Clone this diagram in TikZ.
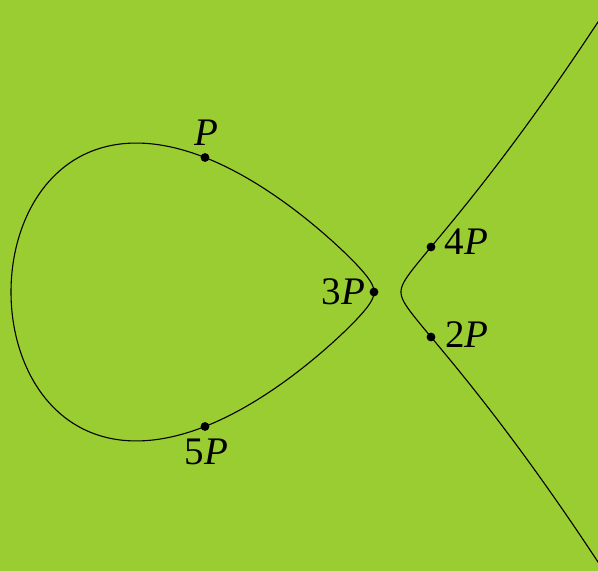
\documentclass[tikz,border=0pt]{standalone}
\usepackage{fontspec}
\setmainfont{Liberation Serif}
\definecolor{bg}{RGB}{154,205,50}
\begin{document}
\begin{tikzpicture}[x=50pt,y=-50pt,
  curve/.style={black,line width=0.55pt},
  pt/.style={circle,fill=black,inner sep=0pt,minimum size=4.4pt},
  lab/.style={inner sep=0pt,font=\fontsize{19.5}{23}\selectfont}]
\fill[bg] (0,0) rectangle (5.98,5.71);
\useasboundingbox (0,0) rectangle (5.98,5.71);
\begin{scope}
\clip (0,0) rectangle (5.98,5.71);
\draw[curve] plot[domain=0:360,samples=240,smooth,variable=\t]
  ({0.11+1.815*(1-cos(\t))},{2.92-1.815*sin(\t)*sqrt(0.28143*(4.01-0.11-1.815*(1-cos(\t))))}) -- cycle;
\draw[curve] plot[domain=-1.43:1.43,samples=160,smooth,variable=\s]
  ({4.01+\s*\s},{2.92+\s*sqrt(0.28143*(4.01+\s*\s-0.11)*(4.01+\s*\s-3.74))});
\end{scope}
\node[pt] (p1) at (2.05,1.575) {};
\node[pt] (p5) at (2.05,4.265) {};
\node[pt] (p3) at (3.74,2.92) {};
\node[pt] (p4) at (4.31,2.47) {};
\node[pt] (p2) at (4.31,3.37) {};
\node[lab] (l1) at (2.06,1.33) {\textit{P}};
\node[lab] (l5) at (2.065,4.52) {5\textit{P}};
\node[lab] (l3) at (3.435,2.92) {3\textit{P}};
\node[lab] (l4) at (4.665,2.42) {4\textit{P}};
\node[lab] (l2) at (4.67,3.35) {2\textit{P}};
\end{tikzpicture}
\end{document}
